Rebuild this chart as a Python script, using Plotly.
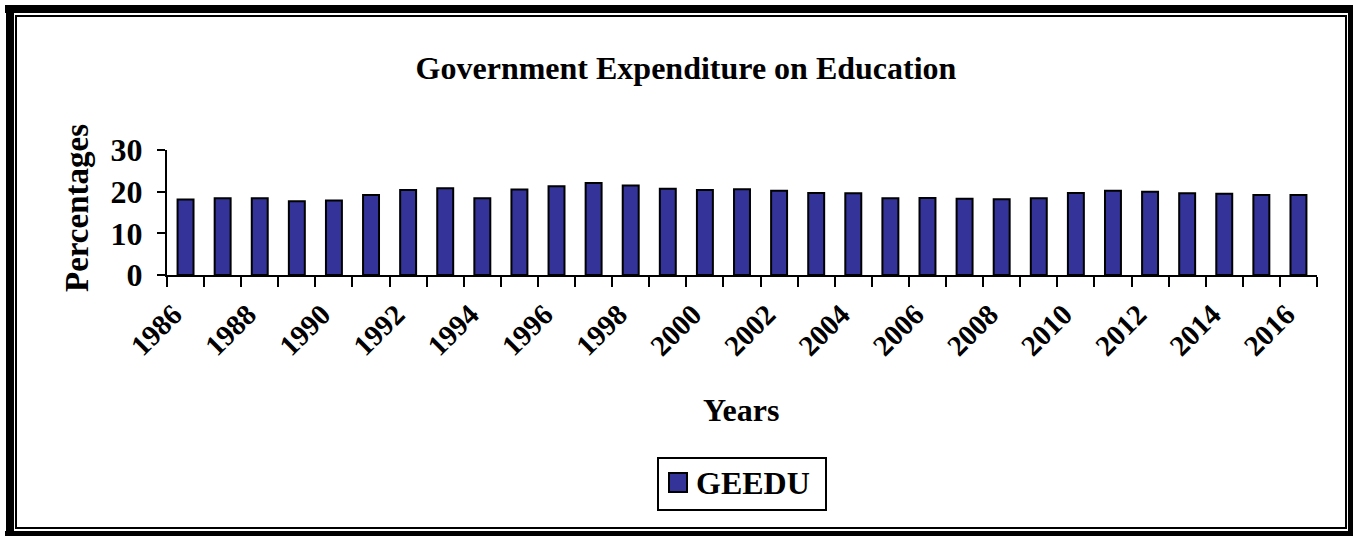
import plotly.graph_objects as go

years = list(range(1986, 2017))
geedu = [18.1, 18.4, 18.4, 17.7, 17.9, 19.2, 20.4, 20.8, 18.4, 20.5,
         21.3, 22.1, 21.5, 20.7, 20.4, 20.6, 20.2, 19.7, 19.6, 18.4,
         18.5, 18.3, 18.2, 18.4, 19.7, 20.2, 20.0, 19.6, 19.5, 19.2, 19.2]
y_ticks = [0, 10, 20, 30]
x_ticks = list(range(1986, 2017, 2))

BAR = "#333399"
W, H = 1354, 537
L, R, T, B = 167, 37, 150, 262
pw, ph = W - L - R, H - T - B

def px(x):
    return (x - L) / pw

def py(y):
    return (H - B - y) / ph

serif = "Liberation Serif"
bold = dict(family=serif, color="black", weight="bold")

fig = go.Figure(go.Bar(
    x=years, y=geedu, name="GEEDU", showlegend=False,
    marker=dict(color=BAR, line=dict(color="black", width=2)),
))

fig.update_layout(
    width=W, height=H,
    margin=dict(l=L, r=R, t=T, b=B),
    paper_bgcolor="white", plot_bgcolor="white",
    bargap=0.57,
    title=dict(
        text="Government Expenditure on Education",
        x=686 / W, y=1 - 68 / H, xanchor="center", yanchor="middle",
        font=dict(size=32, **bold),
    ),
)

fig.update_xaxes(
    range=[1985.5, 2016.5], tickvals=x_ticks, ticks="", tickangle=-45,
    tickfont=dict(size=29, **bold), ticklabelstandoff=9, ticklabelshift=-12,
    showline=True, linecolor="black", linewidth=2, showgrid=False, zeroline=False,
    minor=dict(ticks="outside", tick0=1985.5, dtick=1, ticklen=10,
               tickwidth=2, tickcolor="black", showgrid=False),
)
fig.update_yaxes(
    range=[0, 30], tickvals=y_ticks, ticks="outside", ticklen=8, tickwidth=2,
    tickcolor="black", tickfont=dict(size=32, **bold), ticklabelstandoff=8,
    showline=True, linecolor="black", linewidth=2, showgrid=False, zeroline=False,
)

fig.add_annotation(text="Years", xref="paper", yref="paper", x=px(741), y=py(410),
                   xanchor="center", yanchor="middle",
                   showarrow=False, font=dict(size=32, **bold))
fig.add_annotation(text="Percentages", xref="paper", yref="paper", x=px(77), y=py(208),
                   xanchor="center", yanchor="middle",
                   textangle=-90, showarrow=False, font=dict(size=33, **bold))

# legend box drawn by hand so the key square matches the original size
fig.add_shape(type="rect", xref="paper", yref="paper",
              x0=px(658), x1=px(826), y0=py(458), y1=py(510),
              line=dict(color="black", width=2), fillcolor="white")
fig.add_shape(type="rect", xref="paper", yref="paper",
              x0=px(669), x1=px(687), y0=py(473), y1=py(492),
              line=dict(color="black", width=2), fillcolor=BAR)
fig.add_annotation(text="GEEDU", xref="paper", yref="paper", x=px(694), y=py(483),
                   xanchor="left", yanchor="middle", showarrow=False,
                   font=dict(size=32, **bold))

# double frame around the chart: heavy outer line, thin inner line
frame = [
    (10, 5, 10, 536, 8), (5, 9, 1353, 9, 8),
    (1350.5, 5, 1350.5, 536, 5), (5, 533.5, 1353, 533.5, 5),
    (16, 15, 16, 529, 2), (15, 16, 1347, 16, 2),
    (1346, 15, 1346, 529, 2), (15, 528, 1347, 528, 2),
]
for x0, y0, x1, y1, w in frame:
    fig.add_shape(type="line", xref="paper", yref="paper",
                  x0=px(x0), y0=py(y0), x1=px(x1), y1=py(y1),
                  line=dict(color="black", width=w))

fig.write_html("out.html", config={"displayModeBar": False},
               post_script="document.body.style.margin='0px';")
